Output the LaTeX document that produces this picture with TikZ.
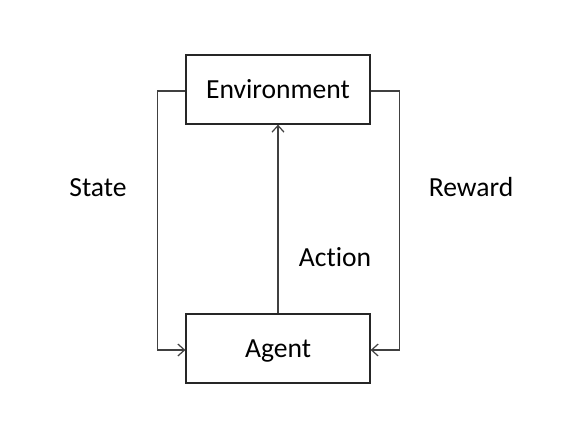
\documentclass[tikz,border=0pt]{standalone}
\usepackage{fontspec}
\setmainfont{Carlito}[Ligatures={NoCommon,NoRare}]
\usetikzlibrary{arrows.meta}
\begin{document}
\begin{tikzpicture}[x=0.75pt,y=-0.75pt,
  box/.style={draw=black!85,line width=0.9pt,minimum width=184*0.75pt,minimum height=69*0.75pt,inner sep=0pt,text height=13.3pt,text depth=0pt,font=\fontsize{20.7}{24}\selectfont},
  lbl/.style={font=\fontsize{20.7}{24}\selectfont,inner sep=0pt,text height=13.3pt,text depth=0pt},
  conn/.style={draw=black!75,line width=0.9pt,-{Straight Barb[length=5pt,width=9pt]}}]
\useasboundingbox (0,0) rectangle (580,437);
\node[box] (env) at (278,89.5) {Environment};
\node[box] (agent) at (278,348.5) {Agent};
\coordinate (lt) at (157.5,91);
\coordinate (lb) at (157.5,350);
\coordinate (rt) at (399.5,91);
\coordinate (rb) at (399.5,350);
\draw[conn] (env.west |- lt) -- (lt) -- (lb) -- (agent.west |- lb);
\draw[conn] (env.east |- rt) -- (rt) -- (rb) -- (agent.east |- rb);
\draw[conn] (agent.north) -- (env.south);
\node[lbl] (state) at (98,188) {State};
\node[lbl] (reward) at (471,188) {Reward};
\node[lbl] (action) at (335,258) {Action};
\end{tikzpicture}
\end{document}
